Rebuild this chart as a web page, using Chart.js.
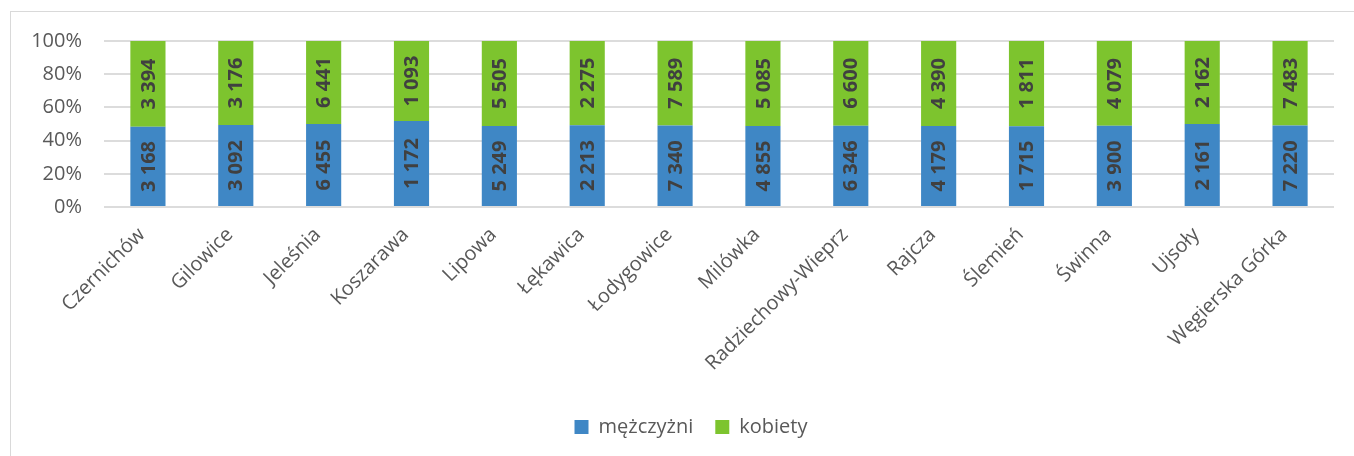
<!DOCTYPE html>
<html>
<head>
<meta charset="utf-8">
<script src="https://cdn.jsdelivr.net/npm/chart.js@4"></script>
<style>
  html, body { margin: 0; padding: 0; background: #fff; }
  #wrap { position: relative; width: 1354px; height: 456px; overflow: hidden; }
  #frame { position: absolute; left: 10px; top: 11px; width: 1400px; height: 500px; border: 1px solid #d9d9d9; }
  #chart { position: absolute; left: 0; top: 0; }
</style>
</head>
<body>
<div id="wrap">
  <div id="frame"></div>
  <canvas id="chart" width="1354" height="456"></canvas>
</div>
<script>
// gminy
const categories = ['Czernichów', 'Gilowice', 'Jeleśnia', 'Koszarawa', 'Lipowa', 'Łękawica', 'Łodygowice',
  'Milówka', 'Radziechowy-Wieprz', 'Rajcza', 'Ślemień', 'Świnna', 'Ujsoły', 'Węgierska Górka'];
const men = [3168, 3092, 6455, 1172, 5249, 2213, 7340, 4855, 6346, 4179, 1715, 3900, 2161, 7220];
const women = [3394, 3176, 6441, 1093, 5505, 2275, 7589, 5085, 6600, 4390, 1811, 4079, 2162, 7483];
const yTicks = ['0%', '20%', '40%', '60%', '80%', '100%'];

const FONT = '"Open Sans", sans-serif';
const totals = men.map((m, i) => m + women[i]);
const pct = arr => arr.map((v, i) => v / totals[i] * 100);
const fmt = n => String(n).replace(/\B(?=(\d{3})+(?!\d))/g, ' ');

// rotated value labels inside the bars
const barLabels = {
  id: 'barLabels',
  afterDatasetsDraw(chart) {
    const ctx = chart.ctx;
    const raw = [men, women];
    ctx.save();
    ctx.font = 'bold 20px ' + FONT;
    ctx.fillStyle = '#404040';
    ctx.textAlign = 'center';
    ctx.textBaseline = 'middle';
    chart.data.datasets.forEach((ds, di) => {
      chart.getDatasetMeta(di).data.forEach((bar, i) => {
        const y = (bar.y + bar.base) / 2;
        ctx.save();
        ctx.translate(bar.x, y);
        ctx.rotate(-Math.PI / 2);
        ctx.fillText(fmt(raw[di][i]), 0, 1);
        ctx.restore();
      });
    });
    ctx.restore();
  }
};

// legend sits a bit right of the canvas centre in the original
const legendShift = {
  id: 'legendShift',
  afterLayout(chart) {
    chart.legend.left += 28;
  }
};

new Chart(document.getElementById('chart').getContext('2d'), {
  type: 'bar',
  data: {
    labels: categories,
    datasets: [
      { label: 'mężczyżni', data: pct(men), backgroundColor: '#3f87c5' },
      { label: 'kobiety', data: pct(women), backgroundColor: '#7dc42e' }
    ]
  },
  options: {
    responsive: false,
    animation: false,
    events: [],
    categoryPercentage: 1,
    barPercentage: 0.4,
    layout: { padding: { left: 20, right: 20, top: 41, bottom: 9 } },
    scales: {
      x: {
        stacked: true,
        grid: { display: false, drawTicks: false },
        border: { display: false },
        ticks: {
          color: '#595959',
          font: { family: FONT, size: 20 },
          minRotation: 45,
          maxRotation: 45,
          padding: 16,
          labelOffset: -6,
          autoSkip: false
        },
        afterFit: s => { s.height = 188; }
      },
      y: {
        stacked: true,
        min: 0,
        max: 100,
        grid: { color: '#dcdcdc', lineWidth: 2, drawTicks: false },
        border: { display: false },
        ticks: {
          stepSize: 20,
          padding: 22,
          color: '#595959',
          font: { family: FONT, size: 20 },
          callback: (v) => yTicks[v / 20]
        },
        afterFit: s => { s.width = 84; }
      }
    },
    plugins: {
      legend: {
        position: 'bottom',
        labels: {
          boxWidth: 14,
          boxHeight: 14,
          color: '#595959',
          font: { family: FONT, size: 20 },
          padding: 22
        }
      },
      tooltip: { enabled: false }
    }
  },
  plugins: [barLabels, legendShift]
});
</script>
</body>
</html>
